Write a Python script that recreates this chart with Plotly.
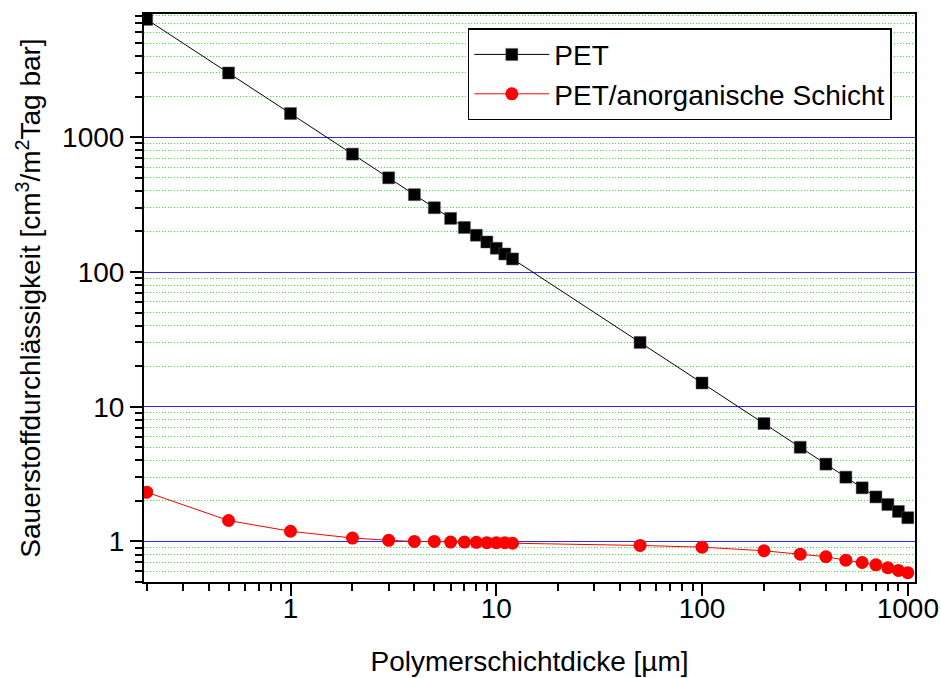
import plotly.graph_objects as go

# Schichtdicke der Polymerschicht in µm
thickness = [0.2, 0.5, 1, 2, 3, 4, 5, 6, 7, 8, 9, 10, 11, 12,
             50, 100, 200, 300, 400, 500, 600, 700, 800, 900, 1000]

# Sauerstoffdurchlässigkeit in cm³/(m² Tag bar)
otr_pet = [7500, 3000, 1500, 750, 500, 375, 300, 250, 214, 187.5, 167, 150, 136, 125,
           30, 15, 7.5, 5.0, 3.75, 3.0, 2.5, 2.14, 1.88, 1.67, 1.5]
otr_coated = [2.32, 1.43, 1.19, 1.06, 1.02, 1.0, 1.0, 0.99, 0.99, 0.985, 0.98, 0.98, 0.98, 0.97,
              0.934, 0.907, 0.853, 0.805, 0.77, 0.726, 0.698, 0.671, 0.638, 0.609, 0.586]

series_names = ["PET", "PET/anorganische Schicht"]

x_tickvals = [1, 10, 100, 1000]
x_ticktext = ["1", "10", "100", "1000"]
y_tickvals = [1, 10, 100, 1000]
y_ticktext = ["1", "10", "100", "1000"]

FONT = "Liberation Sans, Arial, Helvetica, sans-serif"
FS = 28


def minor_positions(first_decade, last_decade):
    """Intermediate log-tick positions 2..9 × 10^k."""
    vals = []
    for k in range(first_decade, last_decade + 1):
        for m in range(2, 10):
            vals.append(m * 10.0 ** k)
    return vals


fig = go.Figure()
fig.add_trace(go.Scatter(
    x=thickness, y=otr_pet, name=series_names[0], mode="lines+markers",
    line=dict(color="black", width=1),
    marker=dict(symbol="square", size=12, color="black",
                line=dict(color="#555555", width=0.5)),
))
fig.add_trace(go.Scatter(
    x=thickness, y=otr_coated, name=series_names[1], mode="lines+markers",
    line=dict(color="red", width=1),
    marker=dict(symbol="circle", size=13, color="red", line=dict(width=0)),
))

axis_common = dict(
    type="log",
    showline=True, linecolor="black", linewidth=2, mirror=True,
    ticks="outside", ticklen=12, tickwidth=2, tickcolor="black",
    tickmode="array",
    tickfont=dict(family=FONT, size=FS, color="black"),
    zeroline=False,
)

fig.update_xaxes(
    **axis_common,
    range=[-0.712, 3.035],
    tickvals=x_tickvals, ticktext=x_ticktext,
    ticklabelstandoff=-12,
    showgrid=False,
    minor=dict(tickmode="array", tickvals=minor_positions(-1, 2),
               ticks="outside", ticklen=7, tickwidth=2,
               tickcolor="black", showgrid=False),
    title=dict(text="Polymerschichtdicke [µm]", standoff=29,
               font=dict(family=FONT, size=FS, color="black")),
)
fig.update_yaxes(
    **axis_common,
    range=[-0.301, 3.915],
    tickvals=y_tickvals, ticktext=y_ticktext,
    showgrid=True, gridcolor="#2a2aff", gridwidth=1,
    minor=dict(tickmode="array", tickvals=[0.5, 0.6, 0.7, 0.8, 0.9] + minor_positions(0, 3)[:-1],
               ticks="outside", ticklen=7, tickwidth=2,
               tickcolor="black", showgrid=True, gridcolor="#33ee33",
               gridwidth=1, griddash="1px,2px"),
    title=dict(text="Sauerstoffdurchlässigkeit [cm<sup>3</sup>/m<sup>2</sup>Tag bar]",
               standoff=13, font=dict(family=FONT, size=FS, color="black")),
)

fig.update_layout(
    width=941, height=678,
    margin=dict(l=144, r=26, t=14, b=96, autoexpand=False),
    paper_bgcolor="white", plot_bgcolor="white",
    font=dict(family=FONT, size=FS, color="black"),
    showlegend=True,
    legend=dict(
        x=0.42, y=0.975, xanchor="left", yanchor="top",
        bgcolor="white", bordercolor="black", borderwidth=1.5,
        font=dict(family=FONT, size=FS, color="black"),
        itemwidth=75, tracegroupgap=0,
    ),
)

fig.write_html("out.html")
